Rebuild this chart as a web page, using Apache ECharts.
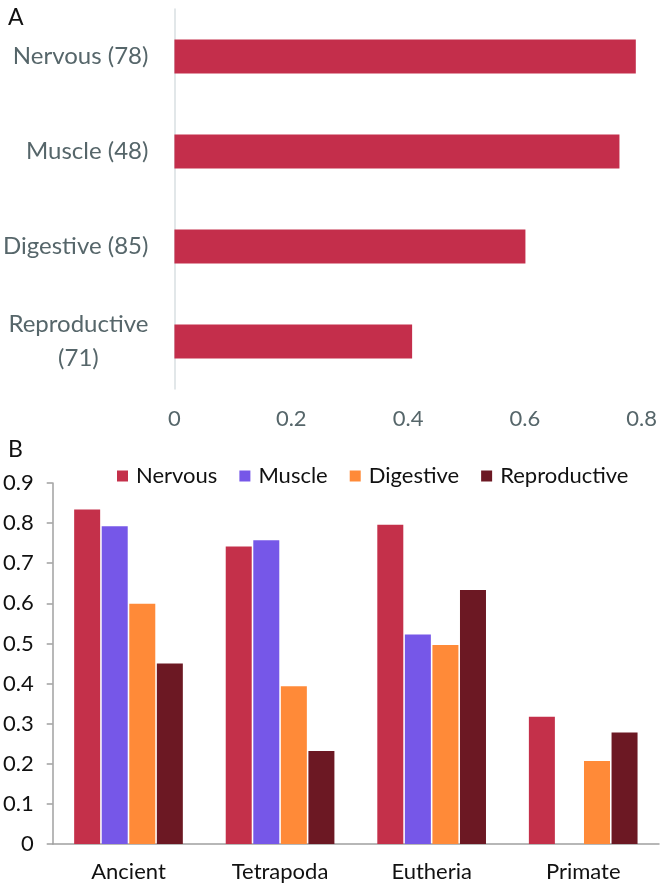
<!DOCTYPE html>
<html>
<head>
<meta charset="utf-8">
<script src="https://cdn.jsdelivr.net/npm/echarts@6/dist/echarts.min.js"></script>
<style>
  html, body { margin: 0; padding: 0; background: #fff; }
  #main { width: 660px; height: 886px; }
</style>
</head>
<body>
<div id="main"></div>
<script>
// panel A
const tissueLabels = ['Nervous (78)', 'Muscle (48)', 'Digestive (85)', 'Reproductive\n(71)'];
const tissueValues = [0.79, 0.762, 0.601, 0.407];

// panel B
const groups = ['Ancient', 'Tetrapoda', 'Eutheria', 'Primate'];
const nervous = [0.834, 0.742, 0.796, 0.317];
const muscle = [0.792, 0.757, 0.522, null];
const digestive = [0.599, 0.393, 0.496, 0.207];
const reproductive = [0.450, 0.232, 0.633, 0.278];

const font = 'Lato';
const grayText = '#56666a';

let myChart = echarts.init(document.getElementById('main'));

function barSeries(name, data, color) {
    return {
        name: name,
        type: 'bar',
        xAxisIndex: 1,
        yAxisIndex: 1,
        barWidth: 26,
        barGap: '6%',
        data: data,
        itemStyle: {color: color},
        animation: false
    };
}

myChart.setOption({
    textStyle: {fontFamily: font},
    title: [
        {text: 'A', left: 3, top: 1, textStyle: {fontFamily: font, fontSize: 23, fontWeight: 'normal', color: '#111'}},
        {text: 'B', left: 3, top: 433, textStyle: {fontFamily: font, fontSize: 23, fontWeight: 'normal', color: '#111'}}
    ],
    legend: {
        left: 112,
        top: 460,
        itemWidth: 11,
        itemHeight: 11,
        itemGap: 22,
        icon: 'rect',
        data: ['Nervous', 'Muscle', 'Digestive', 'Reproductive'],
        textStyle: {fontFamily: font, fontSize: 22, color: '#111', padding: [0, 0, 0, 3]}
    },
    grid: [
        {left: 172, right: 5, top: 9, height: 380},
        {left: 52, right: 1, top: 483, bottom: 42}
    ],
    xAxis: [
        {
            gridIndex: 0,
            type: 'value',
            min: 0,
            max: 0.8,
            interval: 0.2,
            axisLine: {show: false},
            axisTick: {show: false},
            splitLine: {show: false},
            axisLabel: {color: grayText, fontSize: 22, margin: 19, fontFamily: font}
        },
        {
            gridIndex: 1,
            type: 'category',
            data: groups,
            axisLine: {lineStyle: {color: '#a0a0a0', width: 1.5}},
            axisTick: {length: 6, lineStyle: {color: '#a0a0a0', width: 1.5}},
            axisLabel: {color: '#111', fontSize: 22, margin: 17, fontFamily: font}
        }
    ],
    yAxis: [
        {
            gridIndex: 0,
            type: 'category',
            inverse: true,
            data: tissueLabels,
            axisLine: {lineStyle: {color: '#d9dfe2', width: 1.5}},
            axisTick: {show: false},
            axisLabel: {
                margin: 26,
                formatter: function (v) {
                    return v.split('\n').map(function (s) { return '{c|' + s + '}'; }).join('\n');
                },
                rich: {
                    c: {align: 'center', color: grayText, fontSize: 24, fontFamily: font, lineHeight: 34}
                }
            }
        },
        {
            gridIndex: 1,
            type: 'value',
            min: 0,
            max: 0.9,
            interval: 0.1,
            axisLine: {show: true, lineStyle: {color: '#a0a0a0', width: 1.5}},
            axisTick: {show: true, length: 6, lineStyle: {color: '#a0a0a0', width: 1.5}},
            splitLine: {show: false},
            axisLabel: {color: '#111', fontSize: 22, margin: 19, fontFamily: font}
        }
    ],
    series: [
        {
            name: 'tissue',
            type: 'bar',
            xAxisIndex: 0,
            yAxisIndex: 0,
            barWidth: 34,
            data: tissueValues,
            itemStyle: {color: '#c42e4b'},
            animation: false
        },
        barSeries('Nervous', nervous, '#c4304a'),
        barSeries('Muscle', muscle, '#7657e8'),
        barSeries('Digestive', digestive, '#ff8a38'),
        barSeries('Reproductive', reproductive, '#6c1823')
    ]
});
</script>
</body>
</html>
